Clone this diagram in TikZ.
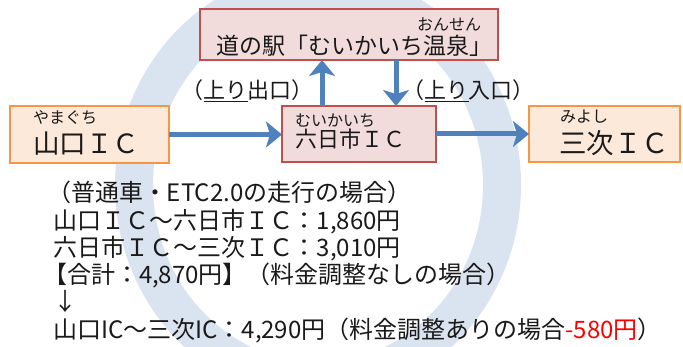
\documentclass[tikz,border=0pt]{standalone}
\usepackage{fontspec}
\setmainfont{Noto Sans CJK JP}
\usetikzlibrary{arrows.meta}
\definecolor{ringblue}{HTML}{DAE3F0}
\definecolor{arrowblue}{HTML}{4F81BD}
\definecolor{orangeline}{HTML}{F79646}
\definecolor{orangefill}{HTML}{FDE9D9}
\definecolor{redline}{HTML}{C0504D}
\definecolor{redfill}{HTML}{F2DCDB}
\definecolor{minus}{HTML}{FF0000}
\definecolor{ink}{HTML}{1A1A1A}
\begin{document}
\begin{tikzpicture}[x=1pt,y=-1pt,
  every node/.style={inner sep=0pt, outer sep=0pt, text=ink},
  obox/.style={draw=orangeline, fill=orangefill, line width=2pt},
  rbox/.style={draw=redline, fill=redfill, line width=2pt},
  flow/.style={draw=arrowblue, line width=5pt, -{Stealth[length=16pt,width=26pt,inset=4pt]}},
  ruby/.style={anchor=west, font=\fontsize{16}{16}\selectfont},
  big/.style={anchor=west, font=\fontsize{26.5}{26}\selectfont},
  mid/.style={anchor=west, font=\fontsize{22}{22}\selectfont},
  lbl/.style={font=\fontsize{22}{22}\selectfont},
  body/.style={anchor=base west, font=\fontsize{24}{24}\selectfont},
]
\useasboundingbox (0,0) rectangle (683,347);
\draw[ringblue, line width=38pt] (318,185) ellipse [x radius=184, y radius=196];

\node[obox, minimum width=159pt, minimum height=57pt] (ya) at (89.5,134.5) {};
\node[rbox, minimum width=154pt, minimum height=56pt] (mu) at (359,134) {};
\node[obox, minimum width=151pt, minimum height=56pt] (mi) at (604.5,134) {};
\node[rbox, minimum width=298pt, minimum height=51pt] (mk) at (349,34.5) {};

\node[ruby] (yar) at (33,118) {やまぐち};
\node[big] (yat) at (33,143.5) {山口ＩＣ};
\node[ruby] (mur) at (295,121) {むいかいち};
\node[mid] (mut) at (295,139) {六日市ＩＣ};
\node[ruby] (mir) at (560,117) {みよし};
\node[big, font=\fontsize{27.5}{27}\selectfont] (mit) at (559,143.5) {三次ＩＣ};
\node[ruby] (mkr) at (417,24) {おんせん};
\node[mid, font=\fontsize{23}{23}\selectfont] (mkt) at (216,45.5) {道の駅「むいかいち温泉」};

\coordinate (upx) at (322,0);
\coordinate (dnx) at (396,0);
\draw[flow] (ya.east) -- (ya.east -| mu.west);
\draw[flow] (mu.east) -- (mu.east -| mi.west);
\draw[flow] (upx |- mu.north) -- (upx |- mk.south);
\draw[flow] (dnx |- mk.south) -- (dnx |- mu.north);

\node[lbl] (lu) at (247.5,90.5) {（\underline{上り}出口）};
\node[lbl] (ld) at (468.5,90.5) {（\underline{上り}入口）};

\node[body] (l1) at (47,202) {（普通車・ETC2.0の走行の場合）};
\node[body] (l2) at (53,230) {山口ＩＣ～六日市ＩＣ：1,860円};
\node[body] (l3) at (53,257) {六日市ＩＣ～三次ＩＣ：3,010円};
\node[body] (l4) at (43,284) {【合計：4,870円】（料金調整なしの場合）};
\node[body] (l5) at (53,311) {↓};
\node[body] (l6) at (53,339) {山口IC～三次IC：4,290円（料金調整ありの場合\textcolor{minus}{-580円}）};
\end{tikzpicture}
\end{document}
